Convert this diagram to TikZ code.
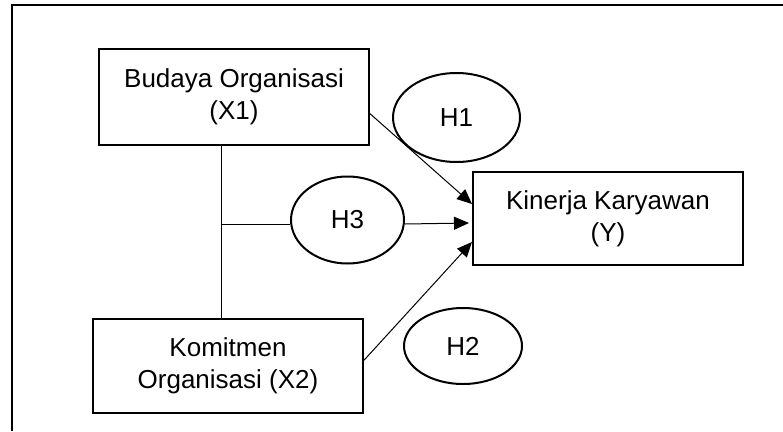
\documentclass[tikz,border=0pt]{standalone}
\usepackage{fontspec}
\setmainfont{Liberation Sans}
\usetikzlibrary{shapes.geometric,arrows.meta,calc}
\begin{document}
\begin{tikzpicture}[x=1pt,y=-1pt,
 box/.style={draw,line width=2pt,minimum width=270pt,align=center,inner sep=0pt,font=\fontsize{26}{32}\selectfont},
 hyp/.style={draw,ellipse,line width=2pt,inner sep=0pt,font=\fontsize{26}{32}\selectfont},
 conn/.style={line width=1pt},
 arr/.style={conn,-{Triangle[length=15pt,width=13pt]}},
 frameline/.style={line width=2.5pt}]
\useasboundingbox (0,0) rectangle (783,431);
\coordinate (fa) at (12,431);
\coordinate (fb) at (12,5);
\coordinate (fc) at (783,5);
\draw[frameline] (fa) -- (fb) -- (fc);

\node[box,minimum height=96pt] (x1) at (234,97) {Budaya Organisasi\\(X1)};
\node[box,minimum height=94pt] (x2) at (228,366) {Komitmen\\Organisasi (X2)};
\node[box,minimum height=93pt] (y) at (608,218.5) {Kinerja Karyawan\\(Y)};
\node[hyp,minimum width=127pt,minimum height=89pt] (h1) at (456.5,117.5) {H1};
\node[hyp,minimum width=118pt,minimum height=76pt] (h2) at (463,346) {H2};
\node[hyp,minimum width=113pt,minimum height=87pt] (h3) at (347.5,220) {H3};

\coordinate (ja) at ($(x1.south)+(-13,0)$);
\coordinate (jb) at (ja |- x2.north);
\coordinate (jm) at ($(ja)+(0,78)$);
\draw[conn] (ja) -- (jb);
\draw[conn] (jm) -- (jm -| h3.west);
\draw[arr] (jm -| h3.east) -- ($(y.west)+(-3,4.5)$);
\draw[arr] ($(x1.north east)!0.67!(x1.south east)$) -- ($(y.west)+(0,-14.5)$);
\draw[arr] ($(x2.north east)!0.44!(x2.south east)$) -- ($(y.west)+(0,23.5)$);
\end{tikzpicture}
\end{document}
